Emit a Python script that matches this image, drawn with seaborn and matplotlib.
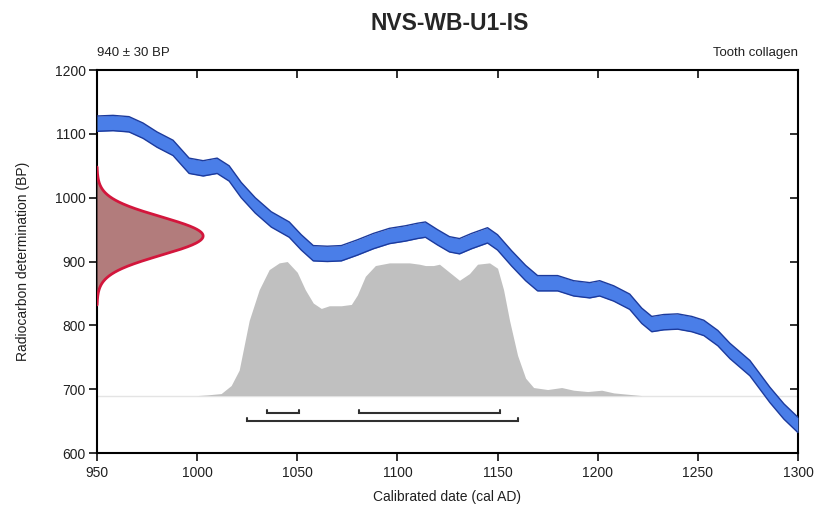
import numpy as np
import pandas as pd
import matplotlib
matplotlib.use("Agg")
import matplotlib.pyplot as plt
import seaborn as sns

# Calibration curve (centre of the band, BP)
curve_year = [950, 958, 966, 973, 980, 988, 996, 1003, 1010, 1016, 1022, 1029,
              1037, 1046, 1052, 1058, 1065, 1072, 1080, 1088, 1096, 1104, 1110,
              1114, 1120, 1126, 1131, 1137, 1145, 1150, 1157, 1164, 1170, 1180,
              1188, 1196, 1201, 1208, 1216, 1222, 1227, 1233, 1240, 1247, 1253,
              1260, 1266, 1276, 1286, 1293, 1300]
curve_bp = [1116, 1117, 1115, 1105, 1091, 1078, 1050, 1046, 1050, 1038, 1012, 988,
            966, 950, 930, 913, 912, 913, 922, 932, 940, 944, 948,
            950, 938, 927, 924, 932, 941, 930, 905, 882, 866, 866,
            858, 855, 858, 850, 837, 815, 802, 805, 806, 802, 796,
            780, 760, 733, 691, 665, 644]
curve_err = 12

# Posterior (relative probability)
post_year = [1000, 1005, 1012, 1017, 1021, 1026, 1031, 1036, 1041, 1045, 1050, 1054,
             1058, 1062, 1066, 1072, 1077, 1080, 1084, 1089, 1096, 1106, 1111,
             1114, 1118, 1121, 1126, 1131, 1136, 1140, 1146, 1150, 1153, 1156,
             1160, 1164, 1168, 1175, 1182, 1188, 1195, 1202, 1208, 1215, 1222]
post_prob = [0.0, 0.005, 0.015, 0.075, 0.19, 0.56, 0.79, 0.94, 0.99, 1.0, 0.92, 0.79,
             0.69, 0.65, 0.67, 0.67, 0.68, 0.75, 0.89, 0.97, 0.99, 0.99, 0.98,
             0.97, 0.97, 0.98, 0.92, 0.86, 0.91, 0.98, 0.99, 0.95, 0.79, 0.56,
             0.30, 0.13, 0.06, 0.045, 0.06, 0.04, 0.03, 0.04, 0.02, 0.01, 0.0]

# Measurement
c14_mean = 940
c14_sd = 30

# Ranges (68.2% row and 95.4% row)
range68 = [(1035, 1051), (1081, 1151)]
range95 = [(1025, 1160)]

sns.set_style("white")
plt.rcParams['font.family'] = ['Liberation Sans', 'DejaVu Sans']

fig = plt.figure(figsize=(8.17, 5.12), dpi=100)
ax = fig.add_axes([0.1187, 0.1152, 0.858, 0.748])

# posterior in grey
base = 690
post_h = 210
post = pd.DataFrame({"year": post_year, "y": base + np.array(post_prob) * post_h})
ax.axhline(base, color="#e4e4e4", lw=1, zorder=1)
ax.fill_between(post["year"], base, post["y"], color="#c0c0c0", lw=0, zorder=2)

# calibration band
cy = np.array(curve_year)
cb = np.array(curve_bp)
ax.fill_between(cy, cb - curve_err, cb + curve_err, color="#4a7ee8", lw=0, zorder=3)
edges = pd.DataFrame({"year": np.concatenate([cy, cy]),
                      "bp": np.concatenate([cb + curve_err, cb - curve_err]),
                      "edge": ["top"] * len(cy) + ["bottom"] * len(cy)})
sns.lineplot(data=edges, x="year", y="bp", units="edge", estimator=None,
             color="#1c3a9c", lw=1.0, ax=ax, zorder=4)

# measurement distribution on y axis
bp = np.linspace(c14_mean - 3.6 * c14_sd, c14_mean + 3.6 * c14_sd, 300)
dens = np.exp(-0.5 * ((bp - c14_mean) / c14_sd) ** 2)
width = 53
ax.fill_betweenx(bp, 950, 950 + dens * width, color="#b27c7c", lw=0, zorder=5)
ax.plot(950 + dens * width, bp, color="#d3163c", lw=2, zorder=6)

# range brackets
tick = 5
for rows, yv in [(range68, 663), (range95, 650)]:
    for a, b in rows:
        ax.plot([a, a, b, b], [yv + tick, yv, yv, yv + tick], color="#303030",
                lw=1.5, zorder=6, solid_joinstyle="miter")

ax.set_xlim(950, 1300)
ax.set_ylim(600, 1200)
ax.set_xticks(range(950, 1301, 50))
ax.set_yticks(range(600, 1201, 100))
ax.tick_params(axis="both", which="both", labelsize=10, colors="#202020",
               length=6, width=1.3, direction="out",
               bottom=True, left=True, top=True, right=True)
ax.tick_params(axis="x", labeltop=False)
ax.tick_params(axis="y", labelright=False, pad=2)
for t in ax.xaxis.get_major_ticks():
    t.tick2line.set_marker(3)  # inward on top
for t in ax.yaxis.get_major_ticks():
    t.tick2line.set_marker(0)  # inward on right
for s in ax.spines.values():
    s.set_color("black")
    s.set_linewidth(1.5)

ax.set_xlabel("Calibrated date (cal AD)", fontsize=10, color="#202020", labelpad=7)
ax.set_ylabel("Radiocarbon determination (BP)", fontsize=10, color="#202020", labelpad=18)
fig.text(0.55, 0.955, "NVS-WB-U1-IS", ha="center", va="center",
         fontsize=16.5, fontweight="bold")
ax.text(0.0, 1.03, "940 \u00b1 30 BP", transform=ax.transAxes, ha="left",
        va="bottom", fontsize=9.5, color="#202020")
ax.text(1.0, 1.03, "Tooth collagen", transform=ax.transAxes, ha="right",
        va="bottom", fontsize=9.5, color="#202020")

fig.savefig("out.png", dpi=100)
